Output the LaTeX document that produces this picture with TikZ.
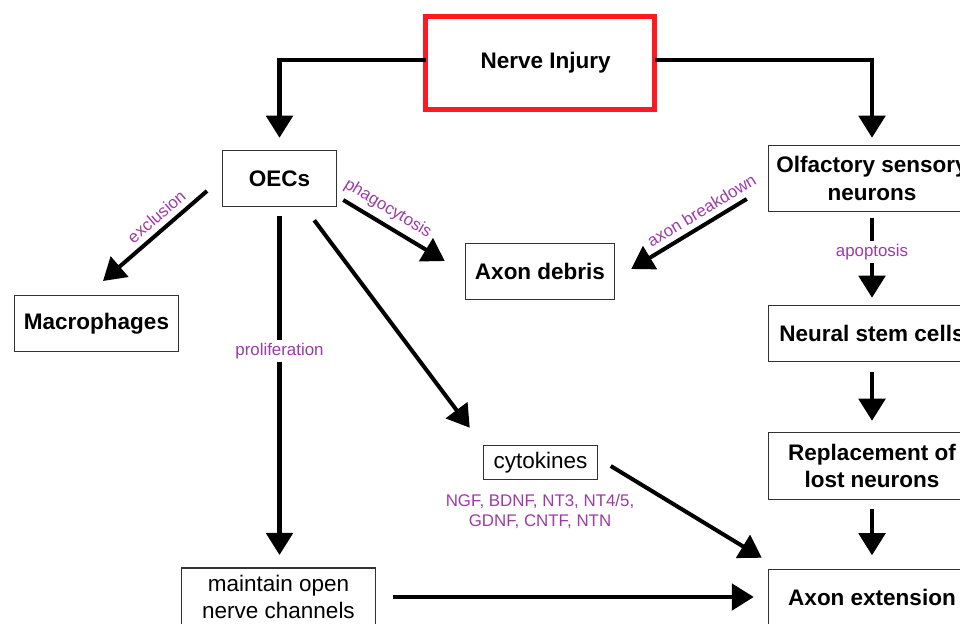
\documentclass[tikz,border=0pt]{standalone}
\usepackage{fontspec}
\setmainfont{Liberation Sans}
\usetikzlibrary{arrows.meta, positioning}

\definecolor{injred}{RGB}{255,26,34}
\definecolor{lblpurple}{RGB}{155,60,165}
\definecolor{boxgray}{RGB}{50,50,50}

% one pixel of the layout grid
\newcommand{\pxl}{0.025cm}

\tikzset{
    box/.style={draw=boxgray, line width=1.05pt, inner sep=0pt, outer sep=0pt, align=center,
        font=\fontsize{16pt}{19.5pt}\selectfont\bfseries},
    plainbox/.style={box, font=\fontsize{16pt}{19.5pt}\selectfont},
    lbl/.style={text=lblpurple, font=\fontsize{12pt}{14.2pt}\selectfont, inner sep=2pt},
    arr/.style={line width=2.85pt, -{Triangle[length=0.55cm, width=0.66cm]}},
}

\begin{document}
\begin{tikzpicture}[x=0.025cm, y=-0.025cm]

    % Frame
    \useasboundingbox (0,0) rectangle (960,624);
    \clip (0,0) rectangle (960,624);

    % Injury
    \node[box, draw=injred, line width=3.55pt, minimum width=229*\pxl, minimum height=93*\pxl] (inj) at (540,63) {\hspace{8pt}Nerve Injury};

    % Left column
    \node[box, minimum width=113.5*\pxl, minimum height=55.5*\pxl] (oecs) at (279.5,178.5) {OECs};
    \node[box, minimum width=163.5*\pxl, minimum height=55.5*\pxl] (mac) at (96.5,323.5) {Macrophages};
    \node[plainbox, minimum width=193.5*\pxl, minimum height=58*\pxl] (chan) at (278.5,597) {maintain open\\nerve channels};

    % Middle column
    \node[box, minimum width=148.5*\pxl, minimum height=55.5*\pxl] (debris) at (540,271.5) {Axon debris};
    \node[plainbox, minimum width=113.5*\pxl, minimum height=33.5*\pxl] (cyto) at (540.5,462.5) {cytokines};
    \node[lbl, align=center] (ngf) at (540,511) {NGF, BDNF, NT3, NT4/5,\\GDNF, CNTF, NTN};

    % Right column
    \node[box, minimum width=206.5*\pxl, minimum height=65.5*\pxl] (osn) at (872,178.5) {Olfactory sensory\\neurons};
    \node[box, minimum width=206.5*\pxl, minimum height=55.5*\pxl] (nsc) at (872,333.5) {Neural stem cells};
    \node[box, minimum width=206.5*\pxl, minimum height=66.5*\pxl] (repl) at (872,466) {Replacement of\\lost neurons};
    \node[box, minimum width=206.5*\pxl, minimum height=55.5*\pxl] (ext) at (872,597) {Axon extension};

    % Arrows from injury
    \draw[arr, shorten >=13*\pxl] ([yshift=2pt]inj.west) -| (oecs.north);
    \draw[arr, shorten >=8*\pxl] ([yshift=2pt]inj.east) -| (osn.north);

    % OECs
    \draw[arr] ([shift={(-15.75,12.5)}]oecs.west) -- ([shift={(6.5,-14.75)}]mac.north)
        node[lbl, pos=0.4, sloped, above=2pt] {exclusion};
    \draw[arr] ([shift={(7,21.5)}]oecs.east) -- ([shift={(-21,-10.5)}]debris.west)
        node[lbl, pos=0.36, sloped, above=2pt] {phagocytosis};
    \draw[arr, shorten <=10*\pxl, shorten >=13*\pxl] (oecs.south) -- (oecs.south |- chan.north)
        node[lbl, pos=0.4, fill=white] {proliferation};
    \draw[arr] ([shift={(-22,14)}]oecs.south east) -- ([shift={(-14,-18)}]cyto.north west);

    % Olfactory sensory neurons
    \draw[arr] ([shift={(-22,20.5)}]osn.west) -- ([shift={(17,-2.5)}]debris.east)
        node[lbl, pos=0.33, sloped, above=2pt] {axon breakdown};
    \draw[arr, shorten <=7*\pxl, shorten >=8*\pxl] (osn.south) -- (nsc.north)
        node[lbl, pos=0.43, fill=white] {apoptosis};
    \draw[arr, shorten <=11*\pxl, shorten >=12*\pxl] (nsc.south) -- (repl.north);
    \draw[arr, shorten <=10*\pxl, shorten >=14*\pxl] (repl.south) -- (ext.north);

    % Axon extension
    \draw[arr] ([shift={(13.5,3.5)}]cyto.east) -- ([shift={(-7,-11.5)}]ext.north west);
    \draw[arr, shorten <=18*\pxl, shorten >=15*\pxl] (chan.east) -- (ext.west);

\end{tikzpicture}
\end{document}
